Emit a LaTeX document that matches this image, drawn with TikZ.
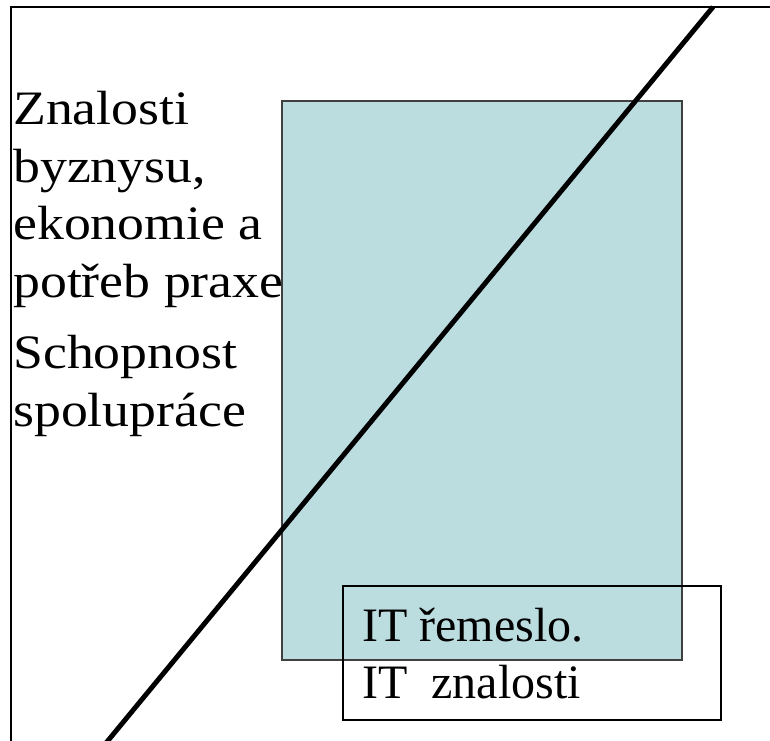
\documentclass[tikz,border=0pt]{standalone}
\usepackage{graphicx}
\usepackage{fontspec}
\setmainfont{Liberation Serif}
\definecolor{panelcyan}{RGB}{187,221,224}
\newcommand\widetext[1]{\scalebox{1.12}[1]{#1}}
\begin{document}
\begin{tikzpicture}[x=0.75pt,y=-0.75pt,
  lbl/.style={anchor=base west, inner sep=0pt, font=\fontsize{36}{43}\selectfont}]
\useasboundingbox (0,0) rectangle (770,741);
\clip (0,0) rectangle (770,741);
% outer frame (only its top and left sides fall inside the page)
\draw[line width=1.5pt] (10.5,7) rectangle (800,800);
% shaded panel
\fill[panelcyan] (282,101) rectangle (682,660);
\draw[black!75, line width=1.2pt] (282,101) rectangle (682,660);
% diagonal divider
\coordinate (dtop) at (713,7);
\coordinate (dbot) at (92,760);
\draw[line width=3.7pt] (dtop) -- (dbot);
% open box round the IT labels
\draw[line width=1.5pt] (343,586) rectangle (721,720);
% left labels
\node[lbl] (t1) at (13,125) {\widetext{Znalosti}};
\node[lbl] (t2) at (13,183) {\widetext{byznysu,}};
\node[lbl] (t3) at (13,240) {\widetext{ekonomie a}};
\node[lbl] (t4) at (13,298) {\widetext{potřeb praxe}};
\node[lbl] (t5) at (13,368) {\widetext{Schopnost}};
\node[lbl] (t6) at (13,426) {\widetext{spolupráce}};
% labels in the box
\node[lbl] (it1) at (362,641) {IT řemeslo.};
\node[lbl] (it2) at (362,698) {IT\ \ znalosti};
\end{tikzpicture}
\end{document}
